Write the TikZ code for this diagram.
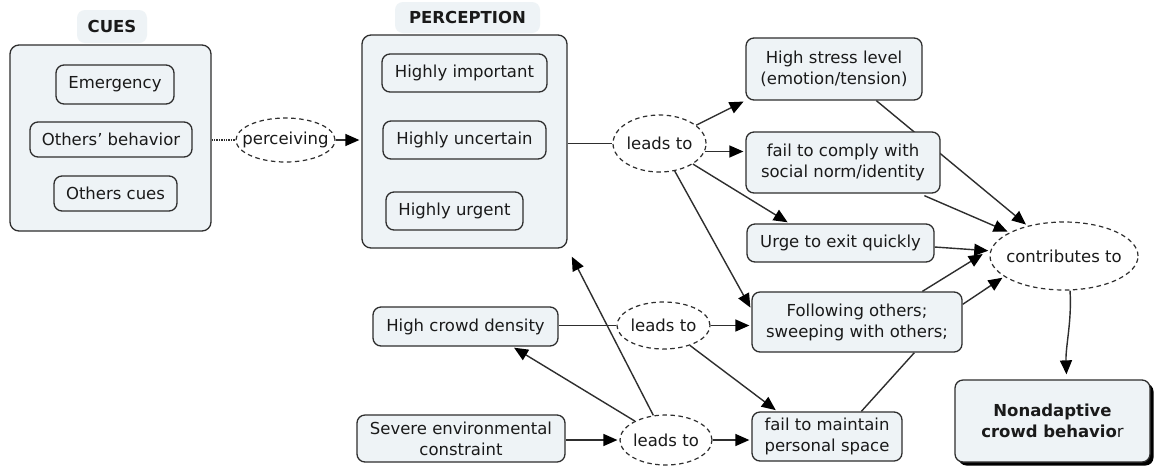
\documentclass[tikz,border=0pt]{standalone}
\usepackage{fontspec}
\setmainfont{DejaVu Sans}
\usetikzlibrary{arrows.meta,calc,shapes.geometric,shadows}
\definecolor{boxfill}{HTML}{EEF3F6}
\definecolor{edge}{HTML}{2E2E2E}
\definecolor{ink}{HTML}{1A1A1A}
\pgfdeclarelayer{background}
\pgfsetlayers{background,main}
% text of a linking phrase takes no width, so the ellipse keeps its set size
\newcommand{\linktext}[1]{\makebox[0pt]{#1}}

\begin{document}
\begin{tikzpicture}[x=1pt,y=-1pt,
  font=\fontsize{16.5}{21}\selectfont,
  every node/.style={text=ink, inner sep=0pt, align=center},
  concept/.style={draw=edge, line width=1.3pt, fill=boxfill, rounded corners=8pt},
  group/.style={concept, rounded corners=9pt},
  heading/.style={fill=boxfill, rounded corners=8pt, font=\fontsize{16.5}{21}\selectfont\bfseries},
  linkphrase/.style={ellipse, draw=edge, line width=1.2pt, dash pattern=on 4.5pt off 3.5pt, fill=white},
  link/.style={draw=edge, line width=1.4pt},
  arrow/.style={link, -{Triangle[length=14pt,width=12pt,fill=black,color=black]}, shorten >=2pt},
]
\useasboundingbox (0,0) rectangle (1155,467);

% cues group
\node[heading, minimum width=70pt, minimum height=33pt] (cuesTitle) at (112,26.5) {CUES};
\node[group, minimum width=201pt, minimum height=186pt] (cues) at (110.5,138) {};
\node[concept, minimum width=118pt, minimum height=39pt] (emergency) at (115,84.5) {Emergency};
\node[concept, minimum width=162pt, minimum height=35pt] (othersBeh) at (111,139.5) {Others' behavior};
\node[concept, minimum width=123pt, minimum height=35pt] (othersCues) at (115.5,193.5) {Others cues};

\node[linkphrase, minimum width=99pt, minimum height=44pt] (perceiving) at (285.5,140) {\linktext{perceiving}};

% perception group
\node[heading, minimum width=145pt, minimum height=31pt] (percTitle) at (467.5,17.5) {PERCEPTION};
\node[group, minimum width=205pt, minimum height=213pt] (perception) at (464.5,141.5) {};
\node[concept, minimum width=165pt, minimum height=38pt] (important) at (464.5,73) {Highly important};
\node[concept, minimum width=163pt, minimum height=38pt] (uncertain) at (464.5,140) {Highly uncertain};
\node[concept, minimum width=137pt, minimum height=38pt] (urgent) at (454.5,211) {Highly urgent};

\node[linkphrase, minimum width=93pt, minimum height=57pt] (lt1) at (659.5,143.5) {\linktext{leads to}};

% consequences
\node[concept, minimum width=176pt, minimum height=62pt] (stress) at (834,69) {High stress level\\(emotion/tension)};
\node[concept, minimum width=194pt, minimum height=61pt] (comply) at (843,162.5) {fail to comply with\\social norm/identity};
\node[concept, minimum width=187pt, minimum height=38pt] (urge) at (840.5,243) {Urge to exit quickly};
\node[concept, minimum width=210pt, minimum height=60pt] (follow) at (857,322) {Following others;\\sweeping with others;};
\node[concept, minimum width=150pt, minimum height=49pt] (maintain) at (827,436.5) {fail to maintain\\personal space};

\node[linkphrase, minimum width=148pt, minimum height=68pt] (contrib) at (1064,256) {\linktext{contributes to}};

\node[concept, minimum width=195pt, minimum height=82pt,
      drop shadow={shadow xshift=3.5pt, shadow yshift=-3.5pt, fill=black, opacity=1}] (nonad) at (1052.5,421)
  {\textbf{Nonadaptive}\\\textbf{crowd behavio}r};

% environment
\node[concept, minimum width=185pt, minimum height=39pt] (density) at (465.5,326.5) {High crowd density};
\node[linkphrase, minimum width=93pt, minimum height=47pt] (lt2) at (663.5,325.5) {\linktext{leads to}};
\node[concept, minimum width=208pt, minimum height=47pt] (severe) at (461,438.5) {Severe environmental\\constraint};
\node[linkphrase, minimum width=92pt, minimum height=50pt] (lt3) at (666,440) {\linktext{leads to}};

% connectors run beneath the boxes
\begin{pgfonlayer}{background}
  \fill[white] (0,0) rectangle (1155,467);
  \draw[link, densely dotted] (perceiving.west -| cues.east) -- (perceiving.west);
  \draw[arrow] (perceiving.east) -- (perceiving.east -| perception.west);
  \draw[link] (lt1.west -| perception.east) -- (lt1.west);
  \draw[arrow] (lt1) -- (stress.south west);
  \draw[arrow] (lt1.-10) -- (lt1.-10 -| comply.west);
  \draw[arrow] (lt1) -- ($(urge.north west)+(43,0)$);
  \draw[arrow] (lt1) -- ($(follow.north west)+(0,18)$);

  \draw[arrow] ($(stress.south west)+(131,0)$) -- (contrib);
  \draw[arrow] ($(comply.south west)+(179,2)$) -- (contrib);
  \draw[arrow] ($(urge.east)+(0,4)$) -- (contrib);
  \draw[arrow] ($(follow.north west)+(171,0)$) -- ($(contrib.west)+(-5,-3)$);
  \draw[arrow] ($(follow.north east)+(0,13)$) -- (contrib.199);
  \draw[link] ($(maintain.north west)+(110,0)$) -- ($(follow.south west)+(163,0)$);
  \draw[arrow] ($(contrib.south)+(6,0)$) .. controls +(2,30) and +(-1,-30) .. ($(nonad.north)+(14,-3)$);

  \draw[link] (lt2.west -| density.east) -- (lt2.west);
  \draw[arrow] (lt2.east) -- (lt2.east -| follow.west);
  \draw[arrow] (lt2) -- ($(maintain.north west)+(26,0)$);

  \draw[arrow] (lt3.west -| severe.east) -- (lt3.west);
  \draw[arrow] (lt3.east) -- (lt3.east -| maintain.west);
  \draw[arrow] (lt3) -- ($(density.south west)+(140,0)$);
  \draw[arrow, shorten >=9pt] (lt3) -- (perception.south east);
\end{pgfonlayer}
\end{tikzpicture}
\end{document}
